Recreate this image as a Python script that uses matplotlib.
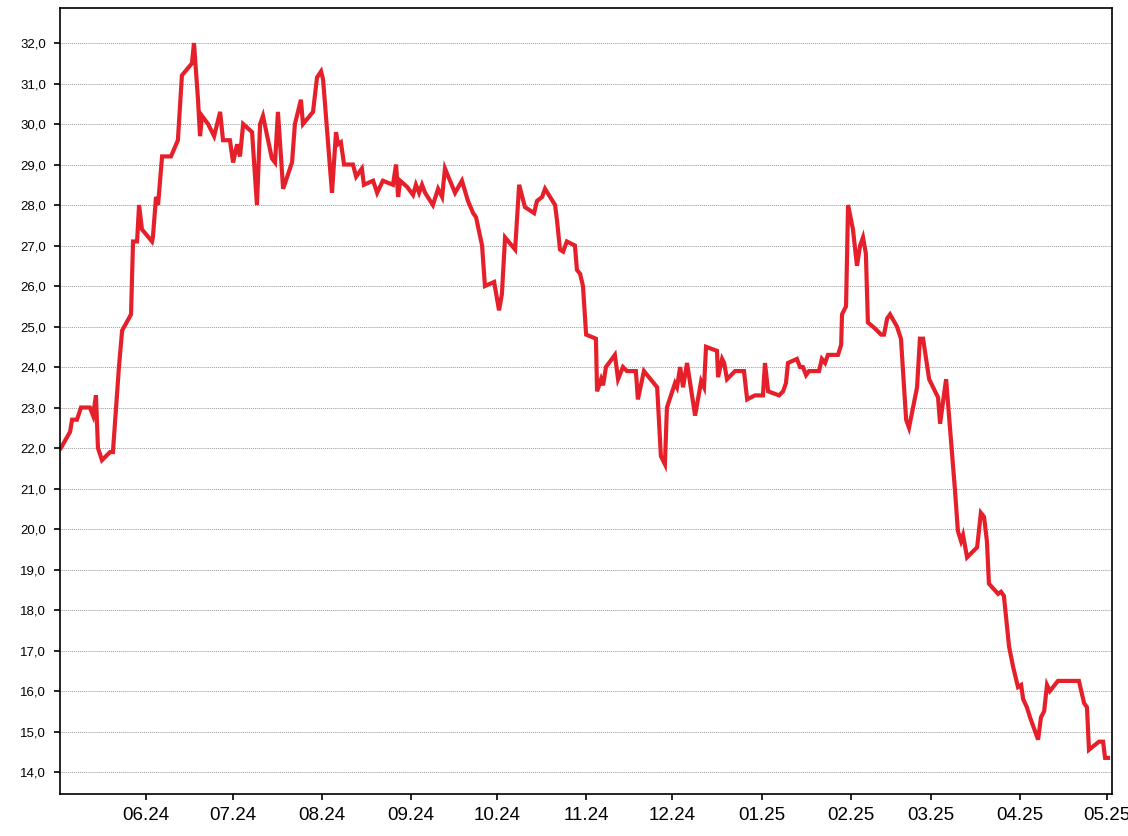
import pandas as pd
import matplotlib
matplotlib.use('Agg')
import matplotlib.pyplot as plt
import matplotlib.dates as mdates
import matplotlib.ticker as ticker

plt.rcParams['font.family'] = ['Liberation Sans', 'DejaVu Sans']

# Price series: days since the start date and the value
start_date = '2024-05-02'
day = [
    0.3, 3.5, 4.2, 5.9, 7.3, 10.4, 11.5, 12.5, 13.2, 14.6, 17.4, 18.4, 20.5, 21.6,
    24.7, 25.4, 26.8, 27.5, 28.5, 32.0, 32.3, 33.4, 34.1, 35.5, 38.6, 41.0, 42.4,
    45.9, 46.6, 48.0, 48.7, 49.4, 51.5, 53.6, 55.7, 56.7, 59.1, 60.2, 61.6, 62.6,
    63.7, 66.8, 68.5, 69.6, 70.6, 73.7, 74.8, 75.8, 77.6, 80.7, 81.7, 83.8, 84.5,
    88.0, 89.4, 90.8, 91.5, 94.6, 96.0, 96.7, 97.7, 98.8, 101.9, 103.0, 105.0,
    105.7, 108.9, 110.3, 112.3, 115.8, 116.9, 117.6, 118.3, 120.7, 122.8, 123.8,
    124.9, 125.9, 127.0, 129.7, 131.5, 132.9, 133.9, 137.4, 139.8, 141.9, 143.7,
    144.7, 146.8, 147.8, 151.0, 152.7, 153.7, 154.8, 158.3, 159.7, 161.7, 164.9,
    165.9, 167.7, 168.7, 172.2, 172.9, 173.9, 175.0, 176.3, 179.1, 179.8, 180.9,
    181.9, 183.0, 186.4, 186.8, 188.2, 188.9, 189.9, 193.0, 194.1, 195.8, 197.2,
    200.3, 201.0, 203.1, 207.7, 209.0, 210.4, 211.1, 213.9, 214.6, 215.7, 216.7,
    218.1, 220.9, 223.0, 224.0, 224.7, 228.5, 228.9, 230.3, 231.0, 232.0, 234.8,
    237.9, 239.0, 241.7, 244.5, 245.2, 246.3, 250.1, 251.5, 252.5, 253.2, 256.3,
    257.4, 258.4, 259.5, 260.5, 264.0, 265.0, 266.1, 267.1, 270.6, 271.7, 272.0,
    273.4, 274.1, 275.8, 277.2, 278.3, 279.3, 280.3, 281.0, 283.5, 285.6, 286.6,
    287.7, 288.7, 291.1, 292.5, 294.3, 295.3, 298.1, 299.1, 300.2, 302.3, 305.4,
    306.1, 308.2, 311.3, 312.3, 313.4, 314.1, 315.5, 319.0, 320.3, 321.4, 322.4,
    323.1, 326.3, 327.3, 328.3, 330.1, 331.5, 333.2, 334.3, 335.0, 336.3, 337.4,
    340.2, 341.2, 342.3, 343.3, 344.3, 347.1, 354.4, 356.2, 357.2, 357.9, 361.4,
    362.8, 363.5, 364.5,
]
price = [
    22.0, 22.4, 22.7, 22.7, 23.0, 23.0, 22.8, 23.3, 22.0, 21.7, 21.9, 21.9, 24.0, 24.9,
    25.3, 27.1, 27.1, 28.0, 27.4, 27.1, 27.2, 28.2, 28.0, 29.2, 29.2, 29.6, 31.2,
    31.5, 32.0, 30.6, 29.7, 30.2, 30.0, 29.7, 30.3, 29.6, 29.6, 29.05, 29.5, 29.2,
    30.0, 29.8, 28.0, 30.0, 30.2, 29.15, 29.05, 30.3, 28.4, 29.05, 30.0, 30.6, 30.0,
    30.3, 31.15, 31.3, 31.1, 28.3, 29.8, 29.5, 29.55, 29.0, 29.0, 28.7, 28.9,
    28.5, 28.6, 28.3, 28.6, 28.5, 29.0, 28.2, 28.6, 28.45, 28.25, 28.5,
    28.3, 28.5, 28.3, 28.0, 28.4, 28.2, 28.9, 28.3, 28.6, 28.1, 27.8,
    27.7, 27.0, 26.0, 26.1, 25.4, 25.8, 27.2, 26.9, 28.5, 27.95, 27.8,
    28.1, 28.2, 28.4, 28.0, 27.6, 26.9, 26.85, 27.1, 27.0, 26.4, 26.3,
    26.0, 24.8, 24.7, 23.4, 23.7, 23.55, 24.0, 24.3, 23.7, 24.0, 23.9,
    23.9, 23.2, 23.9, 23.5, 21.8, 21.6, 23.0, 23.6, 23.5, 24.0, 23.5,
    24.1, 22.8, 23.65, 23.5, 24.5, 24.4, 23.75, 24.2, 24.1, 23.7, 23.9,
    23.9, 23.2, 23.3, 23.3, 24.1, 23.4, 23.3, 23.4, 23.6, 24.1, 24.2,
    24.0, 24.0, 23.8, 23.9, 23.9, 24.2, 24.1, 24.3, 24.3, 24.55, 25.3,
    25.5, 28.0, 27.4, 26.5, 27.0, 27.2, 26.8, 25.1, 24.95, 24.8, 24.8,
    25.2, 25.3, 25.0, 24.7, 22.7, 22.5, 23.5, 24.7, 24.7, 23.7, 23.25,
    22.6, 23.7, 20.95, 19.95, 19.7, 19.85, 19.3, 19.55, 20.4, 20.3, 19.7,
    18.65, 18.4, 18.45, 18.35, 17.1, 16.6, 16.1, 16.15, 15.8, 15.6, 15.35,
    14.8, 15.35, 15.5, 16.15, 16.0, 16.25, 16.25, 15.7, 15.6, 14.55, 14.75,
    14.75, 14.35, 14.35,
]
y_ticks = [14, 15, 16, 17, 18, 19, 20, 21, 22, 23, 24, 25, 26, 27, 28, 29, 30, 31, 32]

start = pd.Timestamp(start_date)
dates = start + pd.to_timedelta(day, unit='D')

fig = plt.figure(figsize=(11.28, 8.36), dpi=100)
ax = fig.add_axes([0.0532, 0.0502, 0.9326, 0.9402])

ax.plot(dates, price, color='#e6202a', linewidth=3.0, solid_joinstyle='miter')

ax.set_xlim(start, start + pd.Timedelta(days=365.9))
ax.set_ylim(13.457, 32.864)

ax.xaxis.set_major_locator(mdates.MonthLocator())
ax.xaxis.set_major_formatter(mdates.DateFormatter('%m.%y'))
ax.set_yticks(y_ticks)
ax.yaxis.set_major_formatter(ticker.FuncFormatter(lambda v, p: f'{v:.1f}'.replace('.', ',')))

ax.tick_params(axis='x', length=4, width=1.2, pad=5, labelsize=13.5)
ax.tick_params(axis='y', length=4, width=1.2, pad=6, labelsize=9.5)

ax.grid(True, axis='y', color='#999999', linestyle=(0, (1, 1)), linewidth=0.7)
ax.set_axisbelow(True)
for s in ax.spines.values():
    s.set_linewidth(1.2)
    s.set_color('black')

fig.savefig('out.png', dpi=100)
